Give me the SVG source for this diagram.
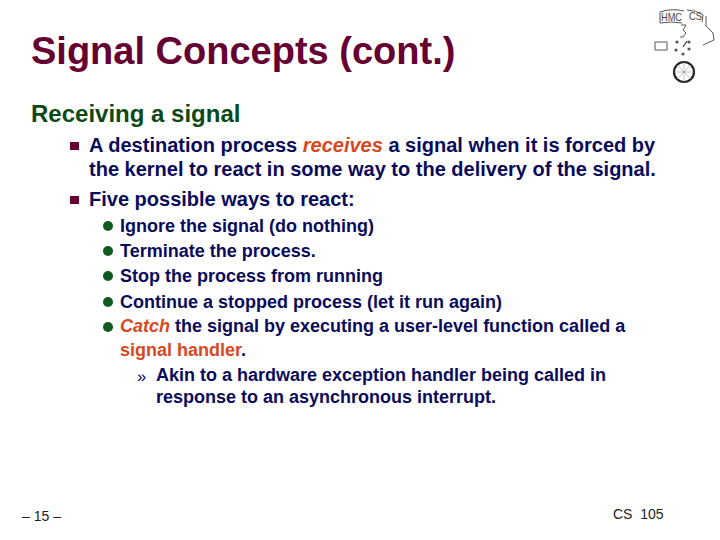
<svg xmlns="http://www.w3.org/2000/svg" width="720" height="540" viewBox="0 0 720 540">
<style>
text{font-family:"Liberation Sans",Arial,sans-serif;white-space:pre}
.b{font-weight:700;fill:#0a0a5c}
.l1{font-size:20px}
.l2{font-size:18px}
.l3{font-size:18px}
.r{fill:#d8481f}
.sq{fill:#660033}
.dot{fill:#0f5a1e}
.lg{fill:none;stroke:#555;stroke-width:1}
</style>
<rect width="720" height="540" fill="#fff"/>
<text x="31" y="64" font-size="38" font-weight="700" fill="#660033">Signal Concepts (cont.)</text>
<text x="31" y="122" font-size="24" font-weight="700" fill="#0b4a14">Receiving a signal</text>
<rect class="sq" x="70" y="142" width="9" height="8"/>
<rect class="sq" x="70" y="196" width="9" height="8"/>
<text class="b l1" x="89" y="152">A destination process <tspan class="r" font-style="italic">receives</tspan> a signal when it is forced by</text>
<text class="b l1" x="89" y="176">the kernel to react in some way to the delivery of the signal.</text>
<text class="b l1" x="89" y="206">Five possible ways to react:</text>
<g class="dot">
<circle cx="108" cy="226" r="5"/><circle cx="108" cy="251" r="5"/><circle cx="108" cy="276" r="5"/><circle cx="108" cy="302" r="5"/><circle cx="108" cy="327" r="5"/>
</g>
<text class="b l2" x="120" y="232">Ignore the signal (do nothing)</text>
<text class="b l2" x="120" y="257">Terminate the process.</text>
<text class="b l2" x="120" y="282">Stop the process from running</text>
<text class="b l2" x="120" y="308">Continue a stopped process (let it run again)</text>
<text class="b l2" x="120" y="332"><tspan class="r" font-style="italic">Catch</tspan> the signal by executing a user-level function called a</text>
<text class="b l2" x="120" y="356"><tspan class="r">signal handler</tspan>.</text>
<text x="137" y="382" font-size="16.6" fill="#0a0a5c">»</text>
<text class="b l3" x="156" y="381">Akin to a hardware exception handler being called in</text>
<text class="b l3" x="156" y="403">response to an asynchronous interrupt.</text>
<text x="22" y="521" font-size="14" fill="#222">– 15 –</text>
<text x="613" y="519" font-size="14" fill="#222">CS  105</text>
<g id="logo">
<text x="661" y="21" font-size="11" fill="#444" textLength="21" lengthAdjust="spacingAndGlyphs">HMC</text>
<text x="689" y="20" font-size="11" fill="#444" textLength="13" lengthAdjust="spacingAndGlyphs">CS</text>
<path class="lg" d="M660 12Q672 8 684 11M687 10Q696 10 703 15M660 12V23M703 15L702 22M660 23Q672 21 682 23"/>
<path class="lg" stroke-width="1.5" d="M681 25H686L683 30L686 33L683 37H680"/>
<path class="lg" d="M706 16V26L713 33L714 40L703 45"/>
<path class="lg" d="M655 42H667V50H655Z"/>
<g fill="#555"><circle cx="677" cy="42" r="1.6"/><circle cx="689" cy="42" r="1.6"/><circle cx="676" cy="50" r="1.6"/><circle cx="689" cy="49" r="1.6"/><circle cx="683" cy="54" r="1.6"/><path d="M683 47L687 41" stroke="#333" stroke-width="1.2"/></g>
<circle cx="684" cy="72" r="10" fill="none" stroke="#222" stroke-width="2.2"/>
<path d="M684 62V82M674 72H694M677 65L691 79M691 65L677 79" stroke="#999" stroke-width=".6"/>
</g>
</svg>
